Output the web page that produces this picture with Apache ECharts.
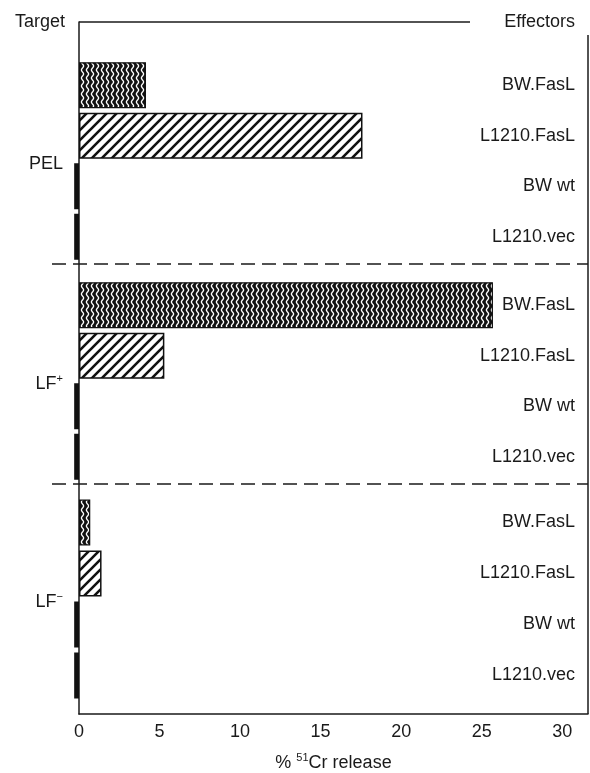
<!DOCTYPE html>
<html>
<head>
<meta charset="utf-8">
<style>
  html, body { margin: 0; padding: 0; background: #fff; }
  #chart { width: 590px; height: 773px; }
</style>
<script src="https://cdn.jsdelivr.net/npm/echarts@6/dist/echarts.min.js"></script>
</head>
<body>
<div id="chart"></div>
<script>
// ---- data ----
const targets = ['PEL', 'LF+', 'LF−'];
const effectors = ['BW.FasL', 'L1210.FasL', 'BW wt', 'L1210.vec'];
const pelRelease = [4.16, 17.6, -0.3, -0.3];
const lfPlusRelease = [25.7, 5.3, -0.3, -0.3];
const lfMinusRelease = [0.7, 1.4, -0.3, -0.3];
const xTicks = [0, 5, 10, 15, 20, 25, 30];

// ---- styling helpers ----
const FONT = '"Liberation Sans", Arial, Helvetica, sans-serif';
const INK = '#1a1a1a';
const FS = 18;

function wavyPattern() {
  const c = document.createElement('canvas');
  c.width = 5; c.height = 8;
  const g = c.getContext('2d');
  g.fillStyle = '#111'; g.fillRect(0, 0, 5, 8);
  g.strokeStyle = '#fff'; g.lineWidth = 1.3;
  g.beginPath();
  for (let y = -1; y <= 9; y += 0.5) {
    const x = 2.5 + 1.1 * Math.sin(2 * Math.PI * y / 8);
    if (y === -1) g.moveTo(x, y); else g.lineTo(x, y);
  }
  g.stroke();
  return { image: c, repeat: 'repeat' };
}
function hatchPattern() {
  const s = 10;
  const c = document.createElement('canvas');
  c.width = s; c.height = s;
  const g = c.getContext('2d');
  g.fillStyle = '#fff'; g.fillRect(0, 0, s, s);
  g.strokeStyle = '#111'; g.lineWidth = 2.6;
  g.beginPath();
  g.moveTo(-1, s + 1); g.lineTo(s + 1, -1);
  g.moveTo(-2, 2); g.lineTo(2, -2);
  g.moveTo(s - 2, s + 2); g.lineTo(s + 2, s - 2);
  g.stroke();
  return { image: c, repeat: 'repeat' };
}
const effectorStyles = [
  { color: wavyPattern(), borderColor: '#111', borderWidth: 1.2 },
  { color: hatchPattern(), borderColor: '#111', borderWidth: 1.5 },
  { color: '#111' },
  { color: '#111' }
];

const groupData = [pelRelease, lfPlusRelease, lfMinusRelease];
const groupGrids = [
  { top: 60, height: 202 },
  { top: 280, height: 202 },
  { top: 497, height: 204 }
];
const X_MAX = 31.6;

function targetName(t) {
  if (t.endsWith('+')) return '{m|LF}{s|+}';
  if (t.endsWith('−')) return '{m|LF}{s|−}';
  return '{m|' + t + '}';
}
const richSup = {
  m: { fontSize: FS, color: INK, fontFamily: FONT, lineHeight: 22 },
  s: { fontSize: 11, color: INK, fontFamily: FONT, lineHeight: 12, verticalAlign: 'top' }
};

const grids = [{ left: 79, right: 2, top: 22, bottom: 59, outerBoundsMode: 'none', containLabel: false }];
const xAxes = [{
  gridIndex: 0, type: 'value', min: 0, max: X_MAX, interval: 5,
  axisLine: { show: true, lineStyle: { color: INK, width: 1.5 } },
  axisTick: { show: false },
  splitLine: { show: false },
  axisLabel: {
    margin: 9, fontSize: FS, color: INK, fontFamily: FONT,
    showMaxLabel: false,
    formatter: v => (xTicks.indexOf(v) >= 0 ? String(v) : '')
  },
  name: '{m|% }{s|51}{m|Cr release}',
  nameLocation: 'middle', nameGap: 49,
  nameTextStyle: { verticalAlign: 'middle', align: 'center', rich: richSup }
}];
const yAxes = [
  {
    gridIndex: 0, type: 'value', min: 0, max: 1, position: 'left',
    axisLine: { show: true, lineStyle: { color: INK, width: 1.5 } },
    axisTick: { show: false }, axisLabel: { show: false }, splitLine: { show: false },
    name: 'Target', nameLocation: 'end', nameGap: 0,
    nameTextStyle: { align: 'right', verticalAlign: 'middle', padding: [0, 14, 0, 0],
      fontSize: FS, color: INK, fontFamily: FONT }
  },
  {
    gridIndex: 0, type: 'value', min: 0, max: 1, position: 'right',
    axisLine: { show: false }, axisTick: { show: false }, axisLabel: { show: false }, splitLine: { show: false },
    name: 'Effectors', nameLocation: 'end', nameGap: 0,
    nameTextStyle: { align: 'right', verticalAlign: 'middle', padding: [0, 13, 0, 0],
      fontSize: FS, color: INK, fontFamily: FONT }
  }
];
const series = [];

targets.forEach((t, gi) => {
  const gIdx = gi + 1;
  grids.push({ left: 79, right: 2, top: groupGrids[gi].top, height: groupGrids[gi].height,
    outerBoundsMode: 'none', containLabel: false });
  xAxes.push({ gridIndex: gIdx, type: 'value', min: 0, max: X_MAX, show: false });
  const leftIdx = yAxes.length;
  yAxes.push({
    gridIndex: gIdx, type: 'category', data: effectors, inverse: true, position: 'left',
    axisLine: { show: false }, axisTick: { show: false }, axisLabel: { show: false },
    name: targetName(t), nameLocation: 'middle', nameRotate: 0, nameGap: 16,
    nameTextStyle: { align: 'right', verticalAlign: 'middle', padding: [6, 0, 0, 0], rich: richSup }
  });
  yAxes.push({
    gridIndex: gIdx, type: 'category', data: effectors, inverse: true, position: 'right',
    axisLine: { show: false }, axisTick: { show: false },
    axisLabel: { inside: true, margin: 13, fontSize: FS, color: INK, fontFamily: FONT }
  });
  series.push({
    type: 'bar', xAxisIndex: gIdx, yAxisIndex: leftIdx, barWidth: 46,
    clip: false, silent: true, animation: false,
    data: groupData[gi].map((v, i) => ({ value: v, itemStyle: effectorStyles[i] }))
  });
});

const lineStyle = { stroke: INK, lineWidth: 1.5 };
const option = {
  backgroundColor: '#fff',
  animation: false,
  grid: grids,
  xAxis: xAxes,
  yAxis: yAxes,
  series: series,
  graphic: [
    { type: 'line', shape: { x1: 79, y1: 22, x2: 470, y2: 22 }, style: lineStyle },
    { type: 'line', shape: { x1: 588, y1: 35, x2: 588, y2: 714 }, style: lineStyle },
    { type: 'line', shape: { x1: 52, y1: 264, x2: 588, y2: 264 }, style: { stroke: INK, lineWidth: 1.5, lineDash: [14, 7] } },
    { type: 'line', shape: { x1: 52, y1: 484, x2: 588, y2: 484 }, style: { stroke: INK, lineWidth: 1.5, lineDash: [14, 7] } }
  ]
};

const chart = echarts.init(document.getElementById('chart'), null, { renderer: 'canvas' });
chart.setOption(option);
</script>
</body>
</html>
